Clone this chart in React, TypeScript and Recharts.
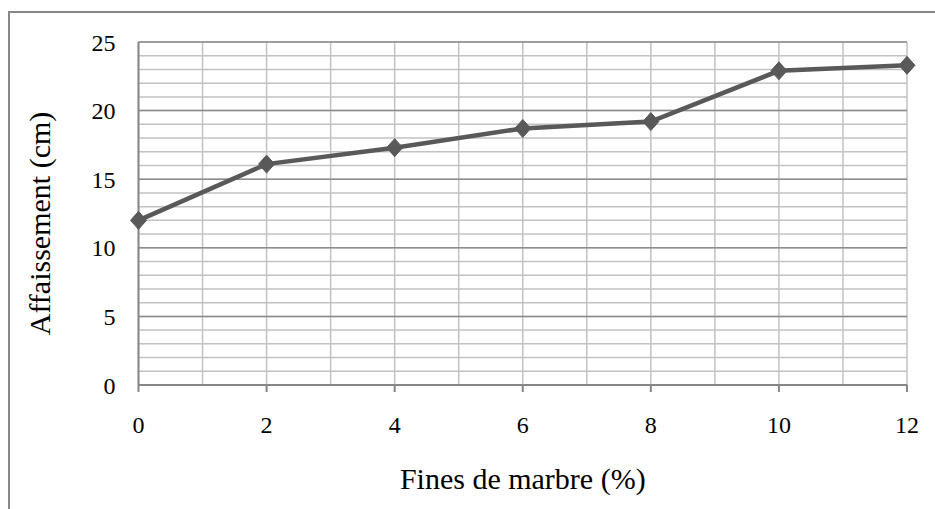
import React from "react";
import { LineChart, Line, XAxis, YAxis, CartesianGrid, Label } from "recharts";

// Slump (affaissement) versus marble fines content
const finesPct = [0, 2, 4, 6, 8, 10, 12];
const slumpCm = [12, 16.1, 17.3, 18.7, 19.2, 22.9, 23.3];

const xTicks = [0, 2, 4, 6, 8, 10, 12];
const yTicks = [0, 5, 10, 15, 20, 25];
const xMinorLines = [0, 1, 2, 3, 4, 5, 6, 7, 8, 9, 10, 11, 12];
const yMinorLines = Array.from({ length: 26 }, (_, i) => i);
const yMajorLines = [5, 10, 15, 20, 25];

const xTitle = "Fines de marbre (%)";
const yTitle = "Affaissement (cm)";

const data = finesPct.map((f, i) => ({ fines: f, slump: slumpCm[i] }));

const FONT = "'Liberation Serif', 'Times New Roman', serif";
const LINE_COLOR = "#595959";
const AXIS_COLOR = "#878787";

const Diamond = (props: any) => {
  const { cx, cy } = props;
  if (cx == null || cy == null) return null;
  const w = 8;
  const h = 9;
  return (
    <polygon
      points={`${cx},${cy - h} ${cx + w},${cy} ${cx},${cy + h} ${cx - w},${cy}`}
      fill={LINE_COLOR}
      stroke={LINE_COLOR}
      strokeWidth={1}
    />
  );
};

export default function App() {
  return (
    <div
      style={{
        position: "fixed",
        left: 0,
        top: 0,
        width: 935,
        height: 509,
        overflow: "hidden",
        background: "#fff",
      }}
    >
      {/* chart frame, only its top and left edges fall inside the view */}
      <div
        style={{
          position: "absolute",
          left: 8,
          top: 11,
          width: 1000,
          height: 600,
          borderTop: `2px solid ${AXIS_COLOR}`,
          borderLeft: `2px solid ${AXIS_COLOR}`,
        }}
      />
      <div style={{ position: "absolute", left: 0, top: 0 }}>
        <LineChart
          width={935}
          height={509}
          data={data}
          margin={{ top: 42, right: 28, left: 0, bottom: 0 }}
          style={{ fontFamily: FONT }}
        >
          <CartesianGrid
            stroke="#c2c2c2"
            strokeWidth={1.5}
            horizontalValues={yMinorLines}
            verticalValues={xMinorLines}
          />
          <CartesianGrid
            stroke="#8c8c8c"
            strokeWidth={1.5}
            horizontalValues={yMajorLines}
            vertical={false}
          />
          <XAxis
            dataKey="fines"
            type="number"
            domain={[0, 12]}
            ticks={xTicks}
            interval={0}
            height={124}
            axisLine={{ stroke: AXIS_COLOR, strokeWidth: 2 }}
            tickLine={{ stroke: AXIS_COLOR, strokeWidth: 2 }}
            tickSize={7}
            tickMargin={24}
            tick={{ fill: "#000", fontSize: 24, fontFamily: FONT }}
          >
            <Label
              content={({ viewBox }: any) => (
                <text
                  x={viewBox.x + viewBox.width / 2}
                  y={viewBox.y + 104}
                  textAnchor="middle"
                  fill="#000"
                  fontSize={30}
                  fontFamily={FONT}
                >
                  {xTitle}
                </text>
              )}
            />
          </XAxis>
          <YAxis
            type="number"
            domain={[0, 25]}
            ticks={yTicks}
            interval={0}
            width={138.5}
            axisLine={{ stroke: AXIS_COLOR, strokeWidth: 2 }}
            tickLine={false}
            tickSize={0}
            tickMargin={23}
            tick={{ fill: "#000", fontSize: 24, fontFamily: FONT }}
          >
            <Label
              content={({ viewBox }: any) => {
                const cy = viewBox.y + viewBox.height / 2 + 10;
                const x = 50;
                return (
                  <text
                    x={x}
                    y={cy}
                    transform={`rotate(-90, ${x}, ${cy})`}
                    textAnchor="middle"
                    fill="#000"
                    fontSize={30}
                    fontFamily={FONT}
                  >
                    {yTitle}
                  </text>
                );
              }}
            />
          </YAxis>
          <Line
            type="linear"
            dataKey="slump"
            stroke={LINE_COLOR}
            strokeWidth={4.5}
            dot={<Diamond />}
            activeDot={false}
            isAnimationActive={false}
          />
        </LineChart>
      </div>
    </div>
  );
}
